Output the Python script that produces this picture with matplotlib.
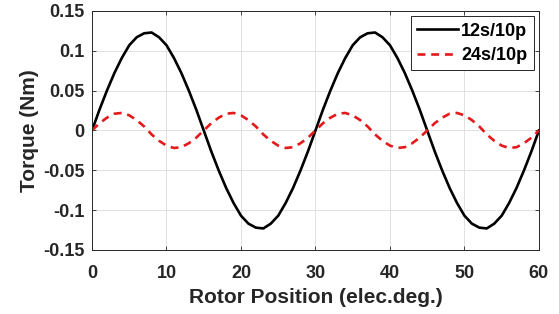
import numpy as np
import matplotlib.pyplot as plt

plt.rcParams['font.family'] = ['Liberation Sans', 'DejaVu Sans']
plt.rcParams['font.weight'] = 'bold'

# rotor position (elec. deg), 1 deg steps
pos = list(range(0, 61))

# 12s/10p cogging torque (Nm)
t12 = [0.000, 0.026, 0.050, 0.072, 0.091, 0.107, 0.117, 0.122, 0.123, 0.117,
       0.107, 0.091, 0.072, 0.050, 0.026, 0.000, -0.026, -0.050, -0.072, -0.091,
       -0.107, -0.117, -0.122, -0.123, -0.117, -0.107, -0.091, -0.072, -0.050, -0.026,
       0.000, 0.026, 0.050, 0.072, 0.091, 0.107, 0.117, 0.122, 0.123, 0.117,
       0.107, 0.091, 0.072, 0.050, 0.026, 0.000, -0.026, -0.050, -0.072, -0.091,
       -0.107, -0.117, -0.122, -0.123, -0.117, -0.107, -0.091, -0.072, -0.050, -0.026,
       0.000]

# 24s/10p cogging torque (Nm)
t24 = [0.000, 0.009, 0.016, 0.021, 0.022, 0.019, 0.013, 0.005, -0.005, -0.013,
       -0.019, -0.022, -0.021, -0.016, -0.009, 0.000, 0.009, 0.016, 0.021, 0.022,
       0.019, 0.013, 0.005, -0.005, -0.013, -0.019, -0.022, -0.021, -0.016, -0.009,
       0.000, 0.009, 0.016, 0.021, 0.022, 0.019, 0.013, 0.005, -0.005, -0.013,
       -0.019, -0.022, -0.021, -0.016, -0.009, 0.000, 0.009, 0.016, 0.021, 0.022,
       0.019, 0.013, 0.005, -0.005, -0.013, -0.019, -0.022, -0.021, -0.016, -0.009,
       0.000]

xticks = [0, 10, 20, 30, 40, 50, 60]
yticks = [-0.15, -0.1, -0.05, 0, 0.05, 0.1, 0.15]
ylabels = ['-0.15', '-0.1', '-0.05', '0', '0.05', '0.1', '0.15']

fig = plt.figure(figsize=(5.59, 3.14), dpi=100)
ax = fig.add_axes([0.1646, 0.204, 0.7995, 0.761])

ax.plot(pos, t12, color='black', lw=1.9, label='12s/10p')
ax.plot(pos, t24, color='#e31a1c', lw=1.9, ls=(0, (3, 2.2)), label='24s/10p')

ax.set_xlim(0, 60)
ax.set_ylim(-0.15, 0.15)
ax.set_xticks(xticks)
ax.set_yticks(yticks)
ax.set_yticklabels(ylabels)
ax.tick_params(direction='in', top=True, right=True, labelsize=13,
               colors='#262626', length=3, width=0.6)
ax.tick_params(axis='x', pad=11)
ax.tick_params(axis='y', pad=5.5)
for lab in ax.get_xticklabels() + ax.get_yticklabels():
    lab.set_fontweight('bold')
for s in ax.spines.values():
    s.set_color('#262626')
    s.set_linewidth(0.7)
ax.grid(True, color='#dcdcdc', lw=0.6)

ax.set_xlabel('Rotor Position (elec.deg.)', fontsize=15, fontweight='bold', color='#262626', labelpad=4)
ax.set_ylabel('Torque (Nm)', fontsize=15, fontweight='bold', color='#262626', labelpad=3)

leg = ax.legend(loc='upper right', fontsize=13, fancybox=False, framealpha=1,
                edgecolor='#262626', handlelength=2.3, handletextpad=0.15,
                borderpad=0.35, labelspacing=0.4, borderaxespad=0.3)
leg.get_frame().set_linewidth(0.7)
for t in leg.get_texts():
    t.set_fontweight('bold')

fig.savefig('out.png', dpi=100)
